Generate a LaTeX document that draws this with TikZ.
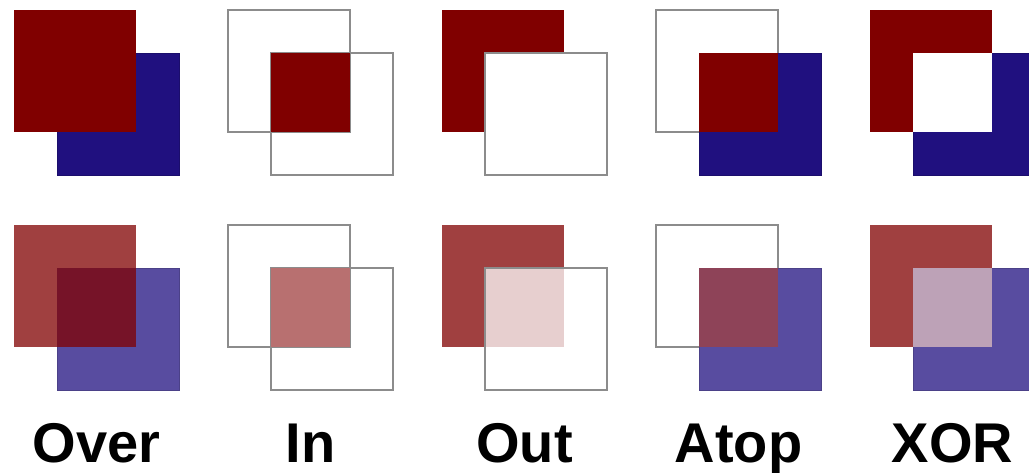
\documentclass[tikz,border=0pt]{standalone}
\usepackage{fontspec}
\newfontfamily\rotulo{Liberation Sans}
\definecolor{rojo}{HTML}{800000}
\definecolor{azul}{HTML}{20107F}
\definecolor{rojo2}{HTML}{A04040}
\definecolor{azul2}{HTML}{584CA0}
\definecolor{mezover}{HTML}{761328}
\definecolor{mezin}{HTML}{B87070}
\definecolor{mezout}{HTML}{E7CFCF}
\definecolor{mezatop}{HTML}{8E4358}
\definecolor{mezxor}{HTML}{BDA2B7}
\definecolor{contorno}{HTML}{8C8C8C}
\tikzset{
  capa/.style={line width=0.5pt},
  caparoja/.style={capa,fill=#1},
  capaazul/.style={capa,fill=#1,draw=#1!85!black},
  hueco/.style={draw=contorno,line width=1.6pt},
  etiq/.style={font=\rotulo\bfseries\fontsize{56}{58}\selectfont,anchor=base,inner sep=0pt},
}

\begin{document}
\begin{tikzpicture}[x=1pt,y=-1pt]
\useasboundingbox (0,0) rectangle (1029,473);
\fill[white] (0,0) rectangle (1029,473);
% esquinas de los cuadros rojos
\coordinate (o1) at (14,10);
\coordinate (i1) at (228,10);
\coordinate (u1) at (442,10);
\coordinate (t1) at (656,10);
\coordinate (x1) at (870,10);
\coordinate (o2) at (14,225);
\coordinate (i2) at (228,225);
\coordinate (u2) at (442,225);
\coordinate (t2) at (656,225);
\coordinate (x2) at (870,225);
\begin{scope}
\clip (0,0) rectangle (1029,400);
% Over
\path[capaazul=azul] ([shift={(43,43)}]o1) rectangle ++(122,122);
\path[caparoja=rojo] (o1) rectangle ++(122,122);
\path[capaazul=azul2] ([shift={(43,43)}]o2) rectangle ++(122,122);
\path[caparoja=rojo2] (o2) rectangle ++(122,122);
\path[capa,fill=mezover] ([shift={(43,43)}]o2) rectangle ++(79,79);
% In
\draw[hueco] (i1) rectangle ++(122,122);
\draw[hueco] ([shift={(43,43)}]i1) rectangle ++(122,122);
\path[caparoja=rojo] ([shift={(43,43)}]i1) rectangle ++(79,79);
\draw[hueco] (i2) rectangle ++(122,122);
\draw[hueco] ([shift={(43,43)}]i2) rectangle ++(122,122);
\path[caparoja=mezin] ([shift={(43,43)}]i2) rectangle ++(79,79);
% Out
\path[caparoja=rojo] (u1) rectangle ++(122,122);
\fill[white] ([shift={(43,43)}]u1) rectangle ++(79,79);
\draw[hueco] ([shift={(43,43)}]u1) rectangle ++(122,122);
\path[caparoja=rojo2] (u2) rectangle ++(122,122);
\fill[mezout] ([shift={(43,43)}]u2) rectangle ++(79,79);
\draw[hueco] ([shift={(43,43)}]u2) rectangle ++(122,122);
% Atop
\draw[hueco] (t1) rectangle ++(122,122);
\path[capaazul=azul] ([shift={(43,43)}]t1) rectangle ++(122,122);
\path[caparoja=rojo] ([shift={(43,43)}]t1) rectangle ++(79,79);
\draw[hueco] (t2) rectangle ++(122,122);
\path[capaazul=azul2] ([shift={(43,43)}]t2) rectangle ++(122,122);
\path[capa,fill=mezatop] ([shift={(43,43)}]t2) rectangle ++(79,79);
% XOR
\path[capaazul=azul] ([shift={(43,43)}]x1) rectangle ++(122,122);
\path[caparoja=rojo] (x1) rectangle ++(122,122);
\path[capa,fill=white] ([shift={(43,43)}]x1) rectangle ++(79,79);
\path[capaazul=azul2] ([shift={(43,43)}]x2) rectangle ++(122,122);
\path[caparoja=rojo2] (x2) rectangle ++(122,122);
\path[capa,fill=mezxor] ([shift={(43,43)}]x2) rectangle ++(79,79);
\end{scope}
% rotulos
\node[etiq] (lover) at (96.5,462) {Over};
\node[etiq] (lin) at (310.5,462) {In};
\node[etiq] (lout) at (524.5,462) {Out};
\node[etiq] (latop) at (738.5,462) {Atop};
\node[etiq] (lxor) at (952.5,462) {XOR};
\end{tikzpicture}
\end{document}
